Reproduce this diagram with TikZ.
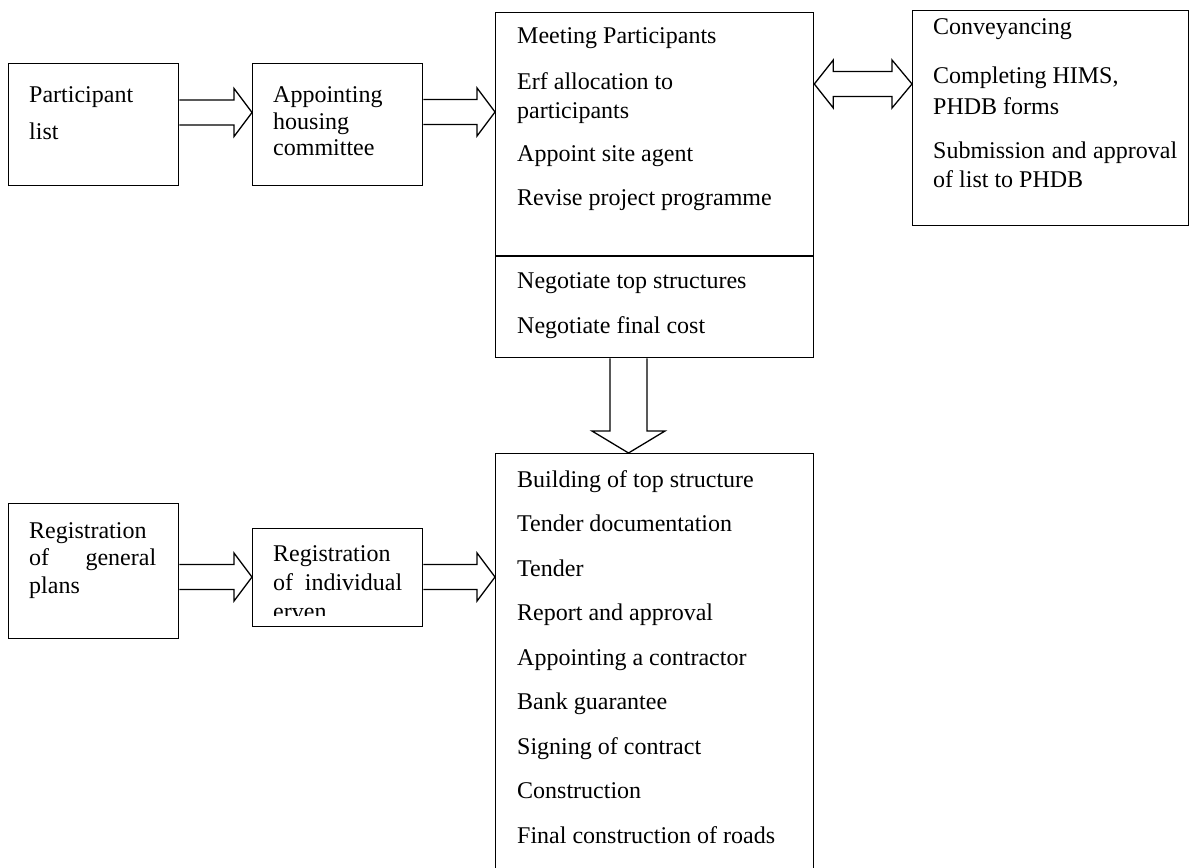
\documentclass[tikz,border=0pt]{standalone}
\usepackage{fontspec}
\setmainfont{Liberation Serif}
\usetikzlibrary{calc}
\tikzset{
  box/.style={draw, line width=1.3pt, rectangle, inner sep=0pt, anchor=north west},
  txt/.style={anchor=base west, inner sep=0pt, font=\fontsize{24}{28}\selectfont},
  arr/.style={draw, line width=1.3pt, line join=miter}
}
% fat right arrow from node #1 to node #2 with centre line at y=#3 (px)
\newcommand\fatarrowR[3]{%
  \draw[arr] let \p1=(#1.east), \p2=(#2.west) in
    (\x1,-#3pt+12.5pt) -- (\x2-18pt,-#3pt+12.5pt) -- (\x2-18pt,-#3pt+24pt)
    -- (\x2,-#3pt) -- (\x2-18pt,-#3pt-24pt) -- (\x2-18pt,-#3pt-12.5pt)
    -- (\x1,-#3pt-12.5pt);}
\begin{document}
\begin{tikzpicture}[x=1pt,y=-1pt]
\useasboundingbox (0,0) rectangle (1198,867);
\fill[white] (0,0) rectangle (1198,867);
\clip (0,0) rectangle (1198,867);

% boxes
\node[box, minimum width=170pt, minimum height=122pt] (b1) at (8,63) {};
\node[box, minimum width=170pt, minimum height=122pt] (b2) at (252,63) {};
\node[box, minimum width=318pt, minimum height=345pt] (b3) at (495,12) {};
\node[box, minimum width=276pt, minimum height=215pt] (b4) at (912,10) {};
\node[box, minimum width=318pt, minimum height=430pt] (b5) at (495,453) {};
\node[box, minimum width=170pt, minimum height=135pt] (b6) at (8,503) {};
\node[box, minimum width=170pt, minimum height=98pt] (b7) at (252,528) {};

\draw[line width=1.3pt] (b3.west |- 0,256) -- (b3.east |- 0,256);

% texts box 1
\node[txt] (t1a) at (29,102) {Participant};
\node[txt] (t1b) at (29,139) {list};
% box 2
\node[txt] (t2a) at (273,102) {Appointing};
\node[txt] (t2b) at (273,129) {housing};
\node[txt] (t2c) at (273,155) {committee};
% box 3
\node[txt] (t3a) at (517,44) {Meeting Participants};
\node[txt] (t3b) at (517,89) {Erf allocation to};
\node[txt] (t3c) at (517,118) {participants};
\node[txt] (t3d) at (517,161) {Appoint site agent};
\node[txt] (t3e) at (517,205) {Revise project programme};
\node[txt] (t3f) at (517,288) {Negotiate top structures};
\node[txt] (t3g) at (517,333) {Negotiate final cost};
% box 4
\node[txt] (t4a) at (933,35) {Conveyancing};
\node[txt] (t4b) at (933,83) {Completing HIMS,};
\node[txt] (t4c) at (933,114) {PHDB forms};
\node[txt] (t4d) at (933,158) {\makebox[244pt][s]{Submission and approval}};
\node[txt] (t4e) at (933,187) {of list to PHDB};
% box 5
\node[txt] (t5a) at (517,487) {Building of top structure};
\node[txt] (t5b) at (517,531.5) {Tender documentation};
\node[txt] (t5c) at (517,576) {Tender};
\node[txt] (t5d) at (517,620.5) {Report and approval};
\node[txt] (t5e) at (517,665) {Appointing a contractor};
\node[txt] (t5f) at (517,709.5) {Bank guarantee};
\node[txt] (t5g) at (517,754) {Signing of contract};
\node[txt] (t5h) at (517,798.5) {Construction};
\node[txt] (t5i) at (517,843) {Final construction of roads};
% box 6
\node[txt] (t6a) at (29,538) {Registration};
\node[txt] (t6b) at (29,565) {\makebox[127pt][s]{of general}};
\node[txt] (t6c) at (29,593) {plans};
% box 7
\node[txt] (t7a) at (273,561) {Registration};
\node[txt] (t7b) at (273,590) {\makebox[129pt][s]{of individual}};
\begin{scope}
\clip (252,528) rectangle (422,615);
\node[txt] (t7c) at (273,619) {erven};
\end{scope}

% arrows
\fatarrowR{b1}{b2}{112.5}
\fatarrowR{b2}{b3}{112}
\fatarrowR{b6}{b7}{577}
\fatarrowR{b7}{b5}{577}

% double arrow between b3 and b4
\draw[arr] let \p1=(b3.east), \p2=(b4.west) in
  (\x1,-84pt) -- (\x1+19pt,-60pt) -- (\x1+19pt,-71.5pt) -- (\x2-20pt,-71.5pt)
  -- (\x2-20pt,-60pt) -- (\x2,-84pt) -- (\x2-20pt,-108pt) -- (\x2-20pt,-96.5pt)
  -- (\x1+19pt,-96.5pt) -- (\x1+19pt,-108pt) -- cycle;

% down arrow from b3 to b5
\draw[arr] let \p1=(b3.south), \p2=(b5.north) in
  (610pt,\y1) -- (610pt,\y2+22pt) -- (592pt,\y2+22pt) -- (628.5pt,\y2)
  -- (665pt,\y2+22pt) -- (647pt,\y2+22pt) -- (647pt,\y1);
\end{tikzpicture}
\end{document}
